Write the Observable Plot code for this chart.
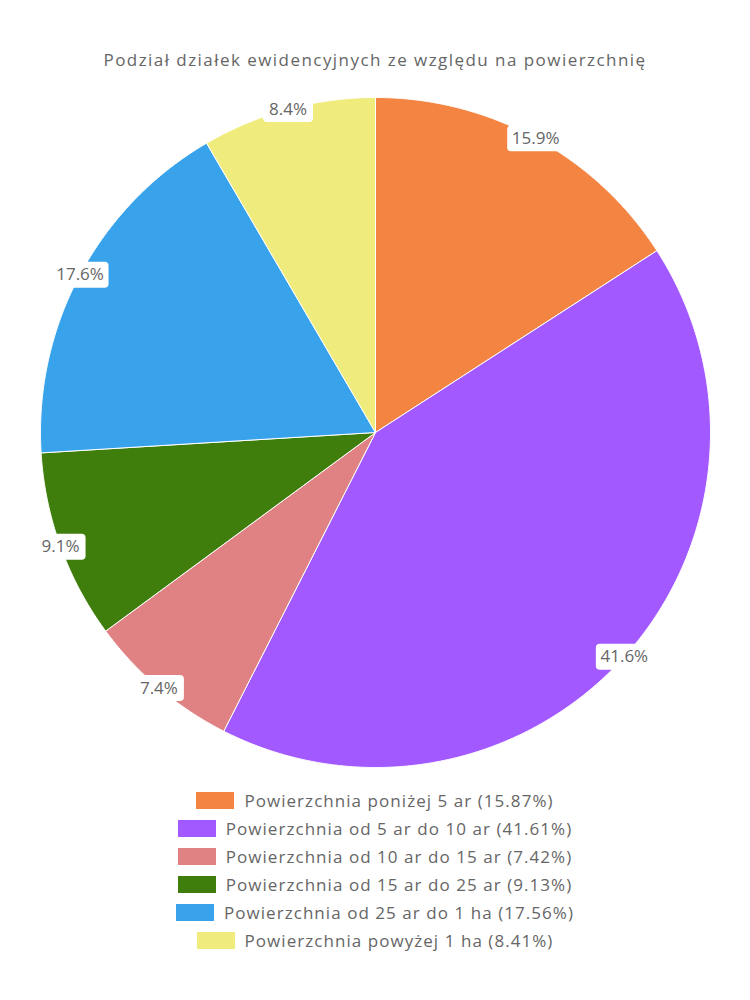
<!DOCTYPE html>
<html>
<head>
<meta charset="utf-8">
<script src="https://cdn.jsdelivr.net/npm/d3@7"></script>
<script src="https://cdn.jsdelivr.net/npm/@observablehq/plot@0.6"></script>
<style>
  body { margin: 0; background: #fff; font-family: "Open Sans", "Noto Sans", sans-serif; color: #666; }
  #title { height: 30px; padding-top: 50px; line-height: 20px; font-size: 17px; text-align: center; letter-spacing: 1.45px; box-sizing: content-box; }
  #chart svg { display: block; }
  #legend { margin-top: 2px; }
  .row { display: flex; justify-content: center; align-items: center; height: 28px; font-size: 17px; letter-spacing: 1.05px; }
  .sw { width: 38px; height: 17px; margin-right: 10px; }
</style>
</head>
<body>
<div id="title">Podział działek ewidencyjnych ze względu na powierzchnię</div>
<div id="chart"></div>
<div id="legend"></div>
<script>
const categories = [
  "Powierzchnia poniżej 5 ar",
  "Powierzchnia od 5 ar do 10 ar",
  "Powierzchnia od 10 ar do 15 ar",
  "Powierzchnia od 15 ar do 25 ar",
  "Powierzchnia od 25 ar do 1 ha",
  "Powierzchnia powyżej 1 ha"
];
const values = [15.87, 41.61, 7.42, 9.13, 17.56, 8.41];
const colors = ["#F38441", "#A259FF", "#E08283", "#3F7D0D", "#38A3EB", "#F0EB7D"];

const rows = categories.map((c, i) => ({cat: c, value: values[i]}));
const arcs = d3.pie().sort(null).value(d => d.value)(rows);

const pts = [];
for (const a of arcs) {
  pts.push({cat: a.data.cat, x: 0, y: 0});
  const n = Math.max(8, Math.ceil((a.endAngle - a.startAngle) / 0.005));
  for (let k = 0; k <= n; k++) {
    const t = a.startAngle + (a.endAngle - a.startAngle) * k / n;
    pts.push({cat: a.data.cat, x: Math.sin(t), y: Math.cos(t)});
  }
  pts.push({cat: a.data.cat, x: 0, y: 0});
}
const labels = arcs.map(a => {
  const m = (a.startAngle + a.endAngle) / 2;
  return {x: Math.sin(m), y: Math.cos(m), text: a.data.value.toFixed(1) + "%"};
});

// rounded label box symbol
function boxSymbol(w, h, r) {
  return {
    draw(ctx) {
      const x0 = -w / 2, x1 = w / 2, y0 = -h / 2, y1 = h / 2;
      ctx.moveTo(x0 + r, y0);
      ctx.arcTo(x1, y0, x1, y1, r);
      ctx.arcTo(x1, y1, x0, y1, r);
      ctx.arcTo(x0, y1, x0, y0, r);
      ctx.arcTo(x0, y0, x1, y0, r);
      ctx.closePath();
    }
  };
}

const chart = Plot.plot({
  width: 750,
  height: 704,
  marginLeft: 40, marginRight: 40, marginTop: 17, marginBottom: 17,
  x: {domain: [-1, 1], axis: null},
  y: {domain: [-1, 1], axis: null},
  color: {domain: categories, range: colors},
  style: {fontFamily: "'Open Sans', 'Noto Sans', sans-serif"},
  marks: [
    Plot.line(pts, {x: "x", y: "y", z: "cat", fill: "cat", stroke: "white", strokeWidth: 1, strokeLinejoin: "round"}),
    Plot.dot(labels.filter(d => d.text.length > 4), {x: "x", y: "y", symbol: boxSymbol(57, 26, 4), r: 10, fill: "white", stroke: "none"}),
    Plot.dot(labels.filter(d => d.text.length <= 4), {x: "x", y: "y", symbol: boxSymbol(50, 26, 4), r: 10, fill: "white", stroke: "none"}),
    Plot.text(labels, {x: "x", y: "y", text: "text", fill: "#666", fontSize: 17})
  ]
});
document.getElementById("chart").appendChild(chart);

const legend = document.getElementById("legend");
categories.forEach((c, i) => {
  const r = document.createElement("div");
  r.className = "row";
  const s = document.createElement("div");
  s.className = "sw";
  s.style.background = colors[i];
  const t = document.createElement("span");
  t.textContent = `${c} (${values[i].toFixed(2)}%)`;
  r.appendChild(s); r.appendChild(t);
  legend.appendChild(r);
});
</script>
</body>
</html>
